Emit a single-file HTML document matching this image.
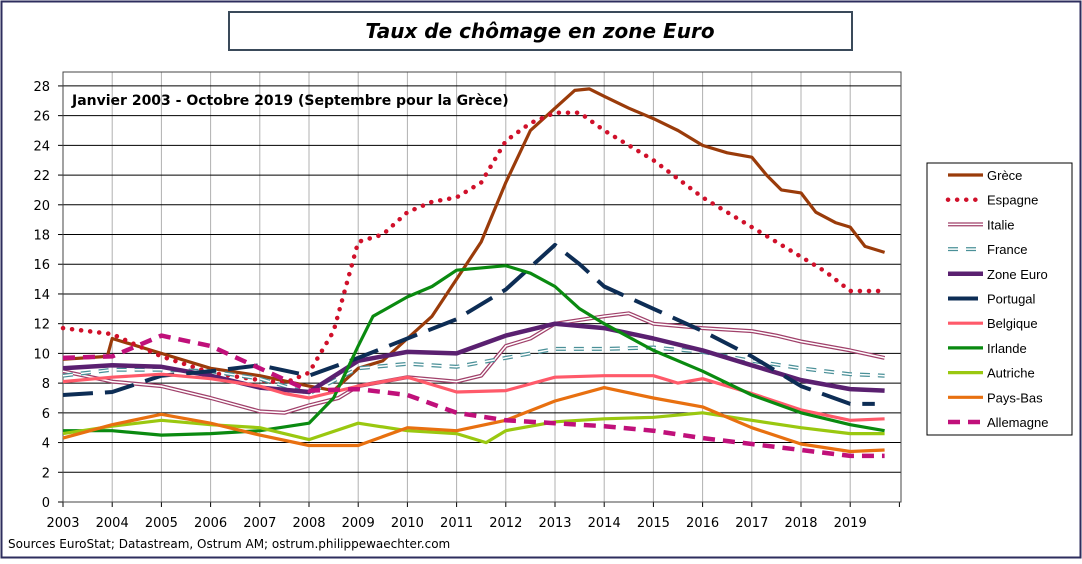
<!DOCTYPE html>
<html><head><meta charset="utf-8"><style>
body{margin:0;background:#fff;}
svg text{font-family:"Liberation Sans",Arial,sans-serif;}
svg text.v{font-family:"DejaVu Sans",Verdana,sans-serif;}
</style></head><body>
<svg id="s" width="1082" height="559" xmlns="http://www.w3.org/2000/svg">
<rect x="1.5" y="1.5" width="1079" height="556" fill="#fff" stroke="#2e2e5e" stroke-width="2"/>
<rect x="229" y="12" width="623" height="38" fill="#fff" stroke="#3a4a5a" stroke-width="2"/>
<text class="v" x="540" y="38" text-anchor="middle" font-size="20" font-weight="bold" font-style="italic" fill="#000">Taux de chômage en zone Euro</text>
<g id="grid"></g>
<rect x="63" y="72" width="838" height="430" fill="none" stroke="#444" stroke-width="1"/>
<text class="v" x="72" y="105" font-size="14" font-weight="bold" fill="#000">Janvier 2003 - Octobre 2019 (Septembre pour la Grèce)</text>
<g id="series"></g>
<rect x="927" y="163" width="145" height="272" fill="#fff" stroke="#000" stroke-width="1"/>
<g id="legend"></g>
<text class="v" x="8" y="548" font-size="12" fill="#000">Sources EuroStat; Datastream, Ostrum AM; ostrum.philippewaechter.com</text>
</svg>
<script>
const NS="http://www.w3.org/2000/svg";
const X=y=>63+(y-2003)*49.2, Y=v=>502-v*14.86;
function el(t,a,p){const e=document.createElementNS(NS,t);for(const k in a)e.setAttribute(k,a[k]);p.appendChild(e);return e;}
const g=document.getElementById('grid');
for(let yr=2003;yr<=2020;yr++){const x=X(yr);
 if(yr>2003&&yr<2020)el('line',{x1:x,y1:72,x2:x,y2:502,stroke:'#b0b0b0','stroke-width':1},g);
 el('line',{x1:x,y1:502,x2:x,y2:507,stroke:'#000'},g);
 if(yr<2020){const t=el('text',{x:x,y:527,'text-anchor':'middle','font-size':13,class:'v'},g);t.textContent=yr;}}
for(let v=0;v<=28;v+=2){const y=Y(v);
 if(v>0)el('line',{x1:63,y1:y,x2:901,y2:y,stroke:'#000','stroke-width':1},g);
 el('line',{x1:58,y1:y,x2:63,y2:y,stroke:'#000'},g);
 const t=el('text',{x:50,y:y+5,'text-anchor':'end','font-size':13,class:'v'},g);t.textContent=v;}
const S=[
["Grèce","#9a3b0a",{},[[2003,9.6],[2003.9,9.8],[2004,11],[2005,10],[2006,9],[2007,8.5],[2008,7.8],[2008.5,7.5],[2009,9],[2009.5,9.5],[2010,11],[2010.5,12.5],[2011,15],[2011.5,17.5],[2012,21.5],[2012.5,25],[2013,26.5],[2013.4,27.7],[2013.7,27.8],[2014,27.3],[2014.5,26.5],[2015,25.8],[2015.5,25],[2016,24],[2016.5,23.5],[2017,23.2],[2017.3,22],[2017.6,21],[2018,20.8],[2018.3,19.5],[2018.7,18.8],[2019,18.5],[2019.3,17.2],[2019.7,16.8]]],
["Espagne","#d0102a",{dash:"0.1 9",cap:"round",w:4.5},[[2003,11.7],[2004,11.3],[2005,9.8],[2006,8.7],[2007,8.2],[2007.5,8],[2008,8.7],[2008.5,11.5],[2009,17.5],[2009.5,18],[2010,19.5],[2010.5,20.2],[2011,20.5],[2011.5,21.5],[2012,24.3],[2012.5,25.5],[2013,26.2],[2013.5,26.2],[2014,25],[2015,23],[2016,20.5],[2017,18.5],[2018,16.5],[2018.5,15.5],[2019,14.2],[2019.7,14.2]]],
["Italie","#a0406a",{double:true},[[2003,8.8],[2004,8.1],[2005,7.8],[2006,7],[2007,6.1],[2007.5,6],[2008,6.5],[2008.6,7],[2009,7.8],[2010,8.4],[2011,8.1],[2011.5,8.5],[2012,10.5],[2012.5,11],[2013,12],[2014,12.5],[2014.5,12.7],[2015,12],[2016,11.7],[2017,11.5],[2017.5,11.2],[2018,10.8],[2019,10.2],[2019.7,9.7]]],
["France","#4a9098",{double:true,dash:"10 8"},[[2003,8.5],[2004,8.9],[2005,8.9],[2006,8.8],[2007,8.3],[2008,7.3],[2009,9],[2010,9.3],[2011,9.1],[2012,9.7],[2013,10.3],[2014,10.3],[2015,10.4],[2016,10.1],[2017,9.5],[2018,9],[2019,8.6],[2019.7,8.5]]],
["Zone Euro","#5a2070",{w:4.5},[[2003,9],[2004,9.2],[2005,9.1],[2006,8.5],[2007,7.7],[2008,7.4],[2009,9.5],[2010,10.1],[2011,10],[2012,11.2],[2013,12],[2014,11.7],[2015,11],[2016,10.2],[2017,9.2],[2018,8.2],[2019,7.6],[2019.7,7.5]]],
["Portugal","#0d2d55",{dash:"30 12",w:4},[[2003,7.2],[2004,7.4],[2005,8.5],[2006,8.8],[2007,9.2],[2008,8.5],[2009,9.7],[2010,11],[2011,12.3],[2012,14.3],[2013,17.3],[2013.5,16],[2014,14.5],[2015,13],[2016,11.5],[2017,9.8],[2018,7.8],[2019,6.6],[2019.5,6.6]]],
["Belgique","#ff5a6a",{},[[2003,8.1],[2004,8.4],[2005,8.6],[2006,8.3],[2007,7.8],[2007.5,7.3],[2008,7],[2009,7.8],[2010,8.4],[2011,7.4],[2012,7.5],[2013,8.4],[2014,8.5],[2015,8.5],[2015.5,8],[2016,8.3],[2017,7.3],[2018,6.2],[2019,5.5],[2019.7,5.6]]],
["Irlande","#0a8a10",{},[[2003,4.8],[2004,4.8],[2005,4.5],[2006,4.6],[2007,4.8],[2008,5.3],[2008.5,7],[2009,10.5],[2009.3,12.5],[2010,13.8],[2010.5,14.5],[2011,15.6],[2012,15.9],[2012.5,15.4],[2013,14.5],[2013.5,13],[2014,12],[2015,10.2],[2016,8.8],[2017,7.2],[2018,6],[2019,5.2],[2019.7,4.8]]],
["Autriche","#9ac810",{},[[2003,4.6],[2004,5.1],[2005,5.5],[2006,5.2],[2007,5],[2008,4.2],[2009,5.3],[2010,4.8],[2011,4.6],[2011.6,4],[2012,4.8],[2013,5.4],[2014,5.6],[2015,5.7],[2016,6],[2017,5.5],[2018,5],[2019,4.6],[2019.7,4.6]]],
["Pays-Bas","#e87010",{},[[2003,4.3],[2004,5.2],[2005,5.9],[2006,5.3],[2007,4.5],[2008,3.8],[2009,3.8],[2010,5],[2011,4.8],[2012,5.5],[2013,6.8],[2014,7.7],[2015,7],[2016,6.4],[2017,5],[2018,3.9],[2019,3.4],[2019.7,3.5]]],
["Allemagne","#c0107a",{dash:"12 8",w:4.5},[[2003,9.7],[2004,9.8],[2005,11.2],[2006,10.5],[2007,9],[2008,7.5],[2009,7.6],[2010,7.2],[2011,6],[2012,5.5],[2013,5.3],[2014,5.1],[2015,4.8],[2016,4.3],[2017,3.9],[2018,3.5],[2019,3.1],[2019.7,3.1]]]
];
const sg=document.getElementById('series'),lg=document.getElementById('legend');
function draw(parent,d,c,o){
 const w=o.w||3.2;
 const a={d:d,fill:'none',stroke:c,'stroke-width':o.double?4:w,'stroke-linejoin':'round','stroke-linecap':o.cap||'butt'};
 if(o.dash)a['stroke-dasharray']=o.dash;
 el('path',a,parent);
 if(o.double){const b=Object.assign({},a,{stroke:'#fff','stroke-width':1.5});el('path',b,parent);}
}
S.forEach((s,i)=>{
 const d='M'+s[3].map(p=>X(p[0]).toFixed(1)+','+Y(p[1]).toFixed(1)).join(' L');
 draw(sg,d,s[1],s[2]);
 const ly=175+i*24.7;
 draw(lg,`M948,${ly} L983,${ly}`,s[1],s[2]);
 const t=el('text',{x:987,y:ly+5,'font-size':13},lg);t.textContent=s[0];
});
</script>
</body></html>
